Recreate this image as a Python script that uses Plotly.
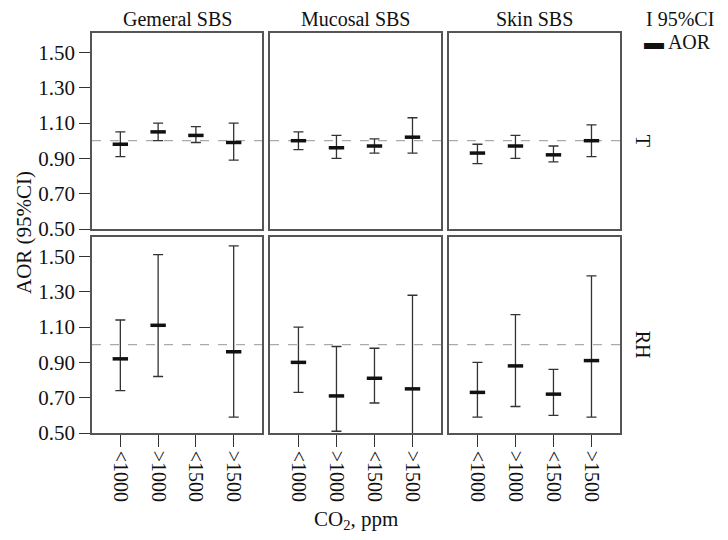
import plotly.graph_objects as go

categories = ["<1000", ">1000", "<1500", ">1500"]
panel_titles = ["Gemeral SBS", "Mucosal SBS", "Skin SBS"]
row_labels = ["T", "RH"]

# T row
t_general_aor = [0.98, 1.05, 1.03, 0.99]
t_general_lo = [0.91, 1.00, 0.99, 0.89]
t_general_hi = [1.05, 1.10, 1.08, 1.10]
t_mucosal_aor = [1.00, 0.96, 0.97, 1.02]
t_mucosal_lo = [0.95, 0.90, 0.93, 0.93]
t_mucosal_hi = [1.05, 1.03, 1.01, 1.13]
t_skin_aor = [0.93, 0.97, 0.92, 1.00]
t_skin_lo = [0.87, 0.90, 0.88, 0.91]
t_skin_hi = [0.98, 1.03, 0.97, 1.09]

# RH row
rh_general_aor = [0.92, 1.11, None, 0.96]
rh_general_lo = [0.74, 0.82, None, 0.59]
rh_general_hi = [1.14, 1.51, None, 1.56]
rh_mucosal_aor = [0.90, 0.71, 0.81, 0.75]
rh_mucosal_lo = [0.73, 0.51, 0.67, 0.47]
rh_mucosal_hi = [1.10, 0.99, 0.98, 1.28]
rh_skin_aor = [0.73, 0.88, 0.72, 0.91]
rh_skin_lo = [0.59, 0.65, 0.60, 0.59]
rh_skin_hi = [0.90, 1.17, 0.86, 1.39]

y_ticks = [0.50, 0.70, 0.90, 1.10, 1.30, 1.50]

panels = [
    [(t_general_aor, t_general_lo, t_general_hi),
     (t_mucosal_aor, t_mucosal_lo, t_mucosal_hi),
     (t_skin_aor, t_skin_lo, t_skin_hi)],
    [(rh_general_aor, rh_general_lo, rh_general_hi),
     (rh_mucosal_aor, rh_mucosal_lo, rh_mucosal_hi),
     (rh_skin_aor, rh_skin_lo, rh_skin_hi)],
]

FONT = "Liberation Serif"
x_domains = [(0.0, 0.322), (0.337, 0.661), (0.676, 1.0)]
y_domains = [(0.51, 1.0), (0.0, 0.49)]
pos = [1, 2, 3, 4]

fig = go.Figure()
shapes = []
idx = 0
for r in range(2):
    for c in range(3):
        idx += 1
        sfx = "" if idx == 1 else str(idx)
        aor, lo, hi = panels[r][c]
        plus = [None if (a is None) else h - a for a, h in zip(aor, hi)]
        minus = [None if (a is None) else a - l for a, l in zip(aor, lo)]
        fig.add_trace(go.Scatter(
            x=pos, y=aor, mode="markers",
            marker=dict(symbol="line-ew", size=11, line=dict(width=3.5, color="#111")),
            error_y=dict(type="data", symmetric=False, array=plus, arrayminus=minus,
                         color="#333", thickness=1.3, width=5),
            xaxis="x" + sfx, yaxis="y" + sfx, showlegend=False, hoverinfo="skip",
        ))
        xa = dict(domain=list(x_domains[c]), range=[0.25, 4.75], anchor="y" + sfx,
                  automargin=False,
                  tickmode="array", tickvals=pos, ticktext=categories,
                  showline=True, mirror=True, linecolor="#555", linewidth=1.5,
                  showgrid=False, zeroline=False, fixedrange=True,
                  tickfont=dict(family=FONT, size=20, color="#111"), tickangle=90)
        if r == 1:
            xa.update(ticks="outside", ticklen=12, tickcolor="#333", showticklabels=True)
        else:
            xa.update(ticks="", showticklabels=False)
        ya = dict(domain=list(y_domains[r]), range=[0.5, 1.61], anchor="x" + sfx,
                  automargin=False,
                  showline=True, mirror=True, linecolor="#555", linewidth=1.5,
                  showgrid=False, zeroline=False, fixedrange=True,
                  tickvals=y_ticks, ticktext=["%.2f" % v for v in y_ticks],
                  tickfont=dict(family=FONT, size=21, color="#111"))
        if c == 0:
            ya.update(ticks="outside", ticklen=11, tickcolor="#333", showticklabels=True)
        else:
            ya.update(ticks="", showticklabels=False)
        fig.update_layout(**{"xaxis" + sfx: xa, "yaxis" + sfx: ya})
        shapes.append(dict(type="line", xref="x" + sfx + " domain", yref="y" + sfx,
                           x0=0, x1=1, y0=1.0, y1=1.0,
                           line=dict(color="#aaa", width=1.3, dash="dash"), layer="below"))

annotations = []
for c, t in enumerate(panel_titles):
    annotations.append(dict(text=t, x=(x_domains[c][0] + x_domains[c][1]) / 2, y=1.0,
                            xref="paper", yref="paper", xanchor="center", yanchor="bottom",
                            yshift=1, showarrow=False,
                            font=dict(family=FONT, size=20, color="#111")))
for r, t in enumerate(row_labels):
    annotations.append(dict(text=t, x=1.0, y=1.0, xref="paper", yref="y" + ("" if r == 0 else "4"),
                            xanchor="left", yanchor="middle", xshift=10, showarrow=False,
                            textangle=90, font=dict(family=FONT, size=20, color="#111")))
annotations.append(dict(text="AOR (95%CI)", x=0, y=0.5, xref="paper", yref="paper",
                        xanchor="center", yanchor="middle",
                        xshift=-68, showarrow=False, textangle=-90,
                        font=dict(family=FONT, size=21, color="#111")))
annotations.append(dict(text="CO<sub>2</sub>, ppm", x=0.5, y=0, xref="paper", yref="paper",
                        xanchor="center", yanchor="middle", yshift=-87, showarrow=False,
                        font=dict(family=FONT, size=21, color="#111")))
annotations.append(dict(text="I 95%CI", x=1.0, y=1.0, xref="paper", yref="paper",
                        xanchor="left", yanchor="middle", xshift=24, yshift=14, showarrow=False,
                        font=dict(family=FONT, size=20, color="#111")))
annotations.append(dict(text="<b>▬</b> AOR", x=1.0, y=1.0, xref="paper", yref="paper",
                        xanchor="left", yanchor="middle", xshift=22, yshift=-9, showarrow=False,
                        font=dict(family=FONT, size=20, color="#111")))

# page body has an 8px default margin, so the figure is sized to fill the rest
fig.update_layout(
    width=720, height=532,
    margin=dict(l=84, r=108, t=25, b=107, autoexpand=False),
    paper_bgcolor="white", plot_bgcolor="white",
    shapes=shapes, annotations=annotations, showlegend=False,
)
fig.write_html("out.html")
